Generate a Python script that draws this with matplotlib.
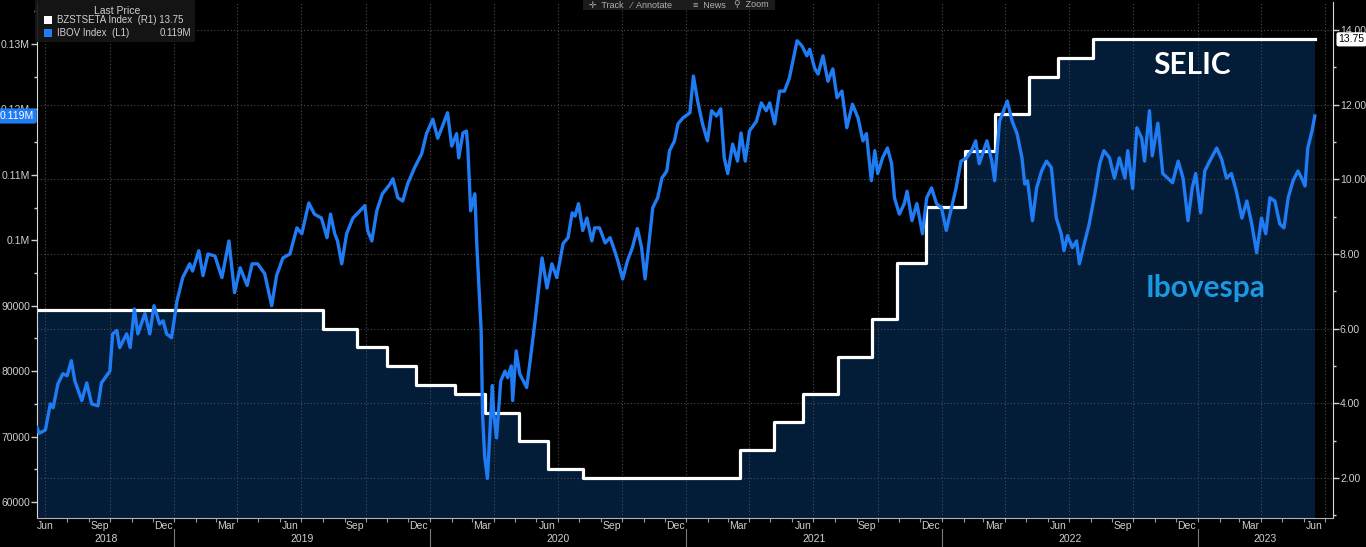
import matplotlib
matplotlib.use("Agg")
import matplotlib.pyplot as plt
import matplotlib.dates as mdates
import matplotlib.ticker as mticker
import matplotlib.transforms as mtransforms
from matplotlib.patches import Rectangle
import pandas as pd

# IBOV Index (L1) - levels
ibov_dates = [
    "2018-06-19", "2018-06-22", "2018-07-01", "2018-07-08", "2018-07-12", "2018-07-19", "2018-07-26",
    "2018-08-01", "2018-08-07", "2018-08-12", "2018-08-22", "2018-08-29", "2018-09-05", "2018-09-14",
    "2018-09-19", "2018-10-01", "2018-10-05", "2018-10-11", "2018-10-15", "2018-10-25", "2018-10-30",
    "2018-11-05", "2018-11-10", "2018-11-20", "2018-11-27", "2018-12-03", "2018-12-11", "2018-12-16",
    "2018-12-21", "2018-12-28", "2019-01-05", "2019-01-13", "2019-01-23", "2019-01-27", "2019-02-05",
    "2019-02-11", "2019-02-18", "2019-02-28", "2019-03-10", "2019-03-20", "2019-03-28", "2019-04-05",
    "2019-04-15", "2019-04-22", "2019-04-30", "2019-05-10", "2019-05-20", "2019-05-27", "2019-06-05",
    "2019-06-15", "2019-06-25", "2019-07-02", "2019-07-12", "2019-07-20", "2019-07-30", "2019-08-07",
    "2019-08-12", "2019-08-18", "2019-08-22", "2019-08-28", "2019-09-04", "2019-09-13", "2019-09-23",
    "2019-09-30", "2019-10-04", "2019-10-10", "2019-10-17", "2019-10-25", "2019-11-05", "2019-11-09",
    "2019-11-16", "2019-11-23", "2019-11-30", "2019-12-10", "2019-12-20", "2019-12-27", "2020-01-05",
    "2020-01-12", "2020-01-19", "2020-01-26", "2020-02-01", "2020-02-08", "2020-02-11", "2020-02-17",
    "2020-02-22", "2020-02-24", "2020-02-28", "2020-03-05", "2020-03-08", "2020-03-14", "2020-03-16",
    "2020-03-19", "2020-03-23", "2020-03-30", "2020-04-01", "2020-04-05", "2020-04-11", "2020-04-17",
    "2020-04-21", "2020-04-26", "2020-04-28", "2020-05-03", "2020-05-08", "2020-05-18", "2020-05-23",
    "2020-05-30", "2020-06-09", "2020-06-16", "2020-06-23", "2020-06-30", "2020-07-09", "2020-07-16",
    "2020-07-22", "2020-07-26", "2020-07-31", "2020-08-06", "2020-08-12", "2020-08-19", "2020-08-23",
    "2020-08-30", "2020-09-07", "2020-09-14", "2020-09-19", "2020-09-25", "2020-10-02", "2020-10-09",
    "2020-10-16", "2020-10-23", "2020-10-29", "2020-11-03", "2020-11-10", "2020-11-14", "2020-11-21",
    "2020-11-27", "2020-12-04", "2020-12-08", "2020-12-15", "2020-12-20", "2020-12-27", "2021-01-06",
    "2021-01-11", "2021-01-17", "2021-01-24", "2021-01-31", "2021-02-06", "2021-02-13", "2021-02-19",
    "2021-02-24", "2021-03-01", "2021-03-08", "2021-03-15", "2021-03-20", "2021-03-26", "2021-04-01",
    "2021-04-11", "2021-04-18", "2021-04-25", "2021-04-30", "2021-05-07", "2021-05-14", "2021-05-21",
    "2021-05-28", "2021-06-08", "2021-06-15", "2021-06-22", "2021-06-26", "2021-07-03", "2021-07-08",
    "2021-07-15", "2021-07-22", "2021-07-29", "2021-08-04", "2021-08-11", "2021-08-18", "2021-08-26",
    "2021-09-03", "2021-09-10", "2021-09-15", "2021-09-22", "2021-09-27", "2021-10-01", "2021-10-08",
    "2021-10-15", "2021-10-21", "2021-10-25", "2021-11-01", "2021-11-08", "2021-11-12", "2021-11-19",
    "2021-11-26", "2021-12-04", "2021-12-10", "2021-12-17", "2021-12-24", "2021-12-31", "2022-01-07",
    "2022-01-11", "2022-01-21", "2022-01-28", "2022-02-05", "2022-02-12", "2022-02-18", "2022-02-23",
    "2022-03-06", "2022-03-13", "2022-03-17", "2022-03-24", "2022-04-04", "2022-04-11", "2022-04-18",
    "2022-04-25", "2022-04-29", "2022-05-03", "2022-05-10", "2022-05-16", "2022-05-23", "2022-05-30",
    "2022-06-06", "2022-06-13", "2022-06-20", "2022-06-24", "2022-06-29", "2022-07-06", "2022-07-12",
    "2022-07-16", "2022-07-23", "2022-07-30", "2022-08-07", "2022-08-14", "2022-08-20", "2022-08-28",
    "2022-09-04", "2022-09-11", "2022-09-19", "2022-09-23", "2022-09-30", "2022-10-06", "2022-10-13",
    "2022-10-17", "2022-10-24", "2022-10-28", "2022-11-05", "2022-11-12", "2022-11-19", "2022-11-26",
    "2022-12-04", "2022-12-11", "2022-12-18", "2022-12-24", "2022-12-29", "2023-01-05", "2023-01-11",
    "2023-01-18", "2023-01-28", "2023-02-04", "2023-02-11", "2023-02-18", "2023-02-25", "2023-03-05",
    "2023-03-12", "2023-03-19", "2023-03-26", "2023-04-02", "2023-04-08", "2023-04-14", "2023-04-21",
    "2023-04-28", "2023-05-04", "2023-05-10", "2023-05-17", "2023-05-24", "2023-05-31", "2023-06-03",
    "2023-06-07", "2023-06-13", "2023-06-17",
]
ibov_values = [
    71400, 70500, 71000, 75000, 74400, 78100, 79600,
    79300, 81600, 78500, 75500, 78200, 75000, 74700,
    78200, 80000, 85700, 86200, 83600, 85700, 83600,
    89500, 85700, 88800, 85700, 90000, 87200, 87700,
    85700, 85100, 90800, 94300, 96400, 95300, 98400,
    94600, 97900, 97600, 94300, 99900, 92000, 95800,
    93100, 96400, 96400, 94900, 90000, 94600, 97300,
    97900, 101900, 101000, 105700, 104000, 103400, 100400,
    104000, 101000, 99900, 96400, 101000, 103400, 104500,
    105300, 101500, 99900, 104500, 107100, 108600, 109400,
    106500, 106000, 108600, 111100, 113200, 116300, 118500,
    115600, 117500, 119500, 114400, 116300, 112600, 116400,
    116700, 114100, 104500, 107100, 98900, 86200, 73500,
    67000, 63600, 77800, 73500, 69800, 78500, 80000,
    79000, 80800, 75500, 83100, 79600, 77500, 81600,
    87700, 97300, 92700, 96400, 94300, 99500, 100400,
    104200, 103700, 105600, 101500, 103400, 99900, 101900,
    101900, 99600, 100400, 98900, 96900, 94100, 96900,
    98900, 101800, 98900, 94100, 101000, 105000, 106500,
    109500, 110600, 113700, 115200, 117800, 118700, 119500,
    125100, 121300, 117800, 115200, 119800, 119000, 120100,
    112600, 110200, 114700, 112100, 116400, 112100, 116700,
    118200, 121000, 119800, 121000, 117800, 122800, 122800,
    124800, 130500, 129700, 128200, 129200, 126300, 125400,
    128200, 124300, 126200, 121800, 122800, 117200, 120800,
    118700, 115200, 116300, 109100, 113700, 110200, 112600,
    114100, 111700, 106500, 104000, 105600, 107500, 103000,
    105600, 101000, 106500, 108000, 105600, 105000, 101500,
    103400, 108000, 112100, 112600, 113700, 115200, 111700,
    115200, 112100, 109100, 118200, 121300, 118200, 116300,
    112600, 108600, 109100, 103000, 108000, 110600, 112100,
    111100, 103400, 101000, 98400, 100700, 98900, 99900,
    96400, 99500, 102500, 107100, 111700, 113700, 112600,
    109500, 112600, 109500, 113700, 107900, 117200, 115600,
    112100, 119800, 112900, 117900, 110200, 109500, 108800,
    112100, 109500, 103000, 108000, 110200, 104200, 110600,
    112100, 114100, 112400, 109500, 110200, 107500, 103400,
    106000, 102500, 98100, 103400, 101000, 106500, 106000,
    102500, 101900, 106500, 109100, 110600, 109100, 108300,
    114100, 116700, 119000,
]

# BZSTSETA Index (R1) - SELIC target, %, from each Copom move
selic_dates = [
    "2018-06-19", "2019-08-01", "2019-09-19", "2019-10-31", "2019-12-12", "2020-02-06",
    "2020-03-19", "2020-05-07", "2020-06-18", "2020-08-06", "2021-03-18", "2021-05-06",
    "2021-06-17", "2021-08-05", "2021-09-23", "2021-10-28", "2021-12-09", "2022-02-03",
    "2022-03-17", "2022-05-05", "2022-06-16", "2022-08-04", "2023-06-17",
]
selic_values = [
    6.50, 6.00, 5.50, 5.00, 4.50, 4.25,
    3.75, 3.00, 2.25, 2.00, 2.75, 3.50,
    4.25, 5.25, 6.25, 7.75, 9.25, 10.75,
    11.75, 12.75, 13.25, 13.75, 13.75,
]

month_labels = ["Jun", "Sep", "Dec", "Mar"]
year_labels = ["2018", "2019", "2020", "2021", "2022", "2023"]

x_start = pd.Timestamp("2018-06-19")
x_end = pd.Timestamp("2023-07-13")

W, H = 1366, 547
BLUE = "#1f7cf4"
NAVY = "#031c38"
GRID = "#4d4d4d"
TXT = "#cfcfcf"

plt.rcParams["font.family"] = ["Liberation Sans", "DejaVu Sans"]

ibov_x = pd.to_datetime(ibov_dates)
selic_x = pd.to_datetime(selic_dates)

fig = plt.figure(figsize=(W / 100, H / 100), dpi=100, facecolor="black")
ax = fig.add_axes([37 / W, 1 - 518 / H, 1296 / W, 516 / H])
ax2 = ax.twinx()
ax2.set_zorder(1)
ax.set_zorder(2)
ax.patch.set_visible(False)

# selic: filled step on the right scale
ax2.fill_between(selic_x, selic_values, 0, step="post", color=NAVY, lw=0, zorder=0.2)
ax2.step(selic_x, selic_values, where="post", color="white", lw=2.3, zorder=2)
ax2.set_ylim(0.93, 14.75)
ax2.yaxis.set_major_locator(mticker.MultipleLocator(2))
ax2.yaxis.set_minor_locator(mticker.MultipleLocator(1))
ax2.yaxis.set_major_formatter(mticker.FuncFormatter(lambda v, p: f"{v:.2f}"))
ax2.yaxis.grid(True, which="major", color=GRID, ls=(0, (1, 2)), lw=0.8)
ax2.set_axisbelow(True)
for q in pd.date_range("2018-07-01", "2023-07-01", freq="QS"):
    ax2.axvline(q, color=GRID, ls=(0, (1, 2)), lw=0.8, zorder=0.5)

# ibovespa on the left scale
ax.plot(ibov_x, ibov_values, color=BLUE, lw=2.4, zorder=3, solid_joinstyle="round")
ax.set_xlim(x_start, x_end)
ax.set_ylim(57555, 136420)


def left_fmt(v, pos):
    if v >= 100000:
        return f"{v / 1e6:g}M"
    return f"{int(v)}"


ax.yaxis.set_major_locator(mticker.MultipleLocator(10000))
ax.yaxis.set_minor_locator(mticker.MultipleLocator(5000))
ax.yaxis.set_major_formatter(mticker.FuncFormatter(left_fmt))

for a in (ax, ax2):
    a.tick_params(axis="y", which="major", length=4, width=1, colors=TXT, labelsize=7.5, pad=1)
    a.tick_params(axis="y", which="minor", length=2.5, width=1, colors=TXT)

# x axis: month ticks, quarter labels at mid month, years below
mids = []
labs = []
for i, d in enumerate(pd.date_range("2018-06-01", "2023-06-01", freq="3MS")):
    m = d + pd.Timedelta(days=15)
    if m < x_start + pd.Timedelta(days=10):
        m = x_start + pd.Timedelta(days=12)
    mids.append(mdates.date2num(m))
    labs.append(month_labels[i % 4])
ax.xaxis.set_major_locator(mticker.FixedLocator(mids))
ax.xaxis.set_major_formatter(mticker.FixedFormatter(labs))
ax.xaxis.set_minor_locator(mdates.MonthLocator())
ax.tick_params(axis="x", which="major", length=0, pad=2, colors=TXT, labelsize=7.5)
ax.tick_params(axis="x", which="minor", length=3, width=0.8, colors="#9a9a9a")

trans = mtransforms.blended_transform_factory(ax.transData, ax.transAxes)
for i, yl in enumerate(year_labels):
    y0 = max(pd.Timestamp(f"{yl}-01-01"), x_start)
    y1 = min(pd.Timestamp(f"{int(yl) + 1}-01-01"), x_end)
    mid = y0 + (y1 - y0) / 2
    ax.text(mid, -0.041, yl, transform=trans, ha="center", va="center",
            color=TXT, fontsize=7.5, clip_on=False)
    if i > 0:
        ax.plot([y0, y0], [-0.021, -0.056], transform=trans, color="#7a7a7a",
                lw=0.8, clip_on=False)

for s in ("top", "right"):
    ax.spines[s].set_visible(False)
for s in ("top", "left", "bottom"):
    ax2.spines[s].set_visible(False)
ax.spines["left"].set_color("#d8d8d8")
ax.spines["bottom"].set_color("#b0b0b0")
ax2.spines["right"].set_color("#d8d8d8")

# last price tags on the axes
ax2.annotate(f"{selic_values[-1]:.2f}", xy=(1, selic_values[-1]), xycoords=("axes fraction", "data"),
             xytext=(4, 0), textcoords="offset points", ha="left", va="center", fontsize=7.5,
             color="black", bbox=dict(boxstyle="round,pad=0.2", fc="white", ec="none"),
             annotation_clip=False, zorder=10)
ax.annotate(f"{ibov_values[-1] / 1e6:.3f}M", xy=(0, ibov_values[-1]), xycoords=("axes fraction", "data"),
            xytext=(-2, 0), textcoords="offset points", ha="right", va="center", fontsize=7.5,
            color="white", bbox=dict(boxstyle="round,pad=0.25", fc=BLUE, ec="none"),
            annotation_clip=False, zorder=10)

# annotations
ax.text(0.891, 0.878, "SELIC", transform=ax.transAxes, ha="center", va="center",
        color="white", fontsize=21.5, fontweight="bold", family=["Lato", "DejaVu Sans"])
ax.text(0.902, 0.446, "Ibovespa", transform=ax.transAxes, ha="center", va="center",
        color="#1b98e2", fontsize=21.5, fontweight="bold", family=["Lato", "DejaVu Sans"])


def fx(px):
    return px / W


def fy(py):
    return 1 - py / H


# legend box (top left)
fig.patches.append(Rectangle((fx(35), fy(42)), 160 / W, 42 / H, transform=fig.transFigure,
                             fc="#161616", ec="none", alpha=0.92, zorder=10))
fig.text(fx(117), fy(11), "Last Price", ha="center", va="center", color=TXT, fontsize=7.5, zorder=11)
fig.patches.append(Rectangle((fx(44), fy(24)), 8 / W, 8 / H, transform=fig.transFigure,
                             fc="white", ec="none", zorder=11))
fig.patches.append(Rectangle((fx(44), fy(37)), 8 / W, 8 / H, transform=fig.transFigure,
                             fc=BLUE, ec="none", zorder=11))
fig.text(fx(57), fy(20), "BZSTSETA Index  (R1) 13.75", ha="left", va="center", color=TXT,
         fontsize=7, zorder=11)
fig.text(fx(57), fy(33), "IBOV Index  (L1)", ha="left", va="center", color=TXT, fontsize=7, zorder=11)
fig.text(fx(191), fy(33), "0.119M", ha="right", va="center", color=TXT, fontsize=7, zorder=11)

# toolbar (top centre)
fig.patches.append(Rectangle((fx(583), fy(10)), 192 / W, 10 / H, transform=fig.transFigure,
                             fc="#1b1b1b", ec="none", zorder=10))
for px, t in [(589, "\u271b  Track"), (631, "\u2215  Annotate"), (693, "\u2261  News"), (734, "\u26b2  Zoom")]:
    fig.text(fx(px), fy(5), t, ha="left", va="center", color="#b0b0b0", fontsize=6.5, zorder=11,
             family=["Liberation Sans", "DejaVu Sans"])

fig.savefig("out.png", dpi=100, facecolor="black")
